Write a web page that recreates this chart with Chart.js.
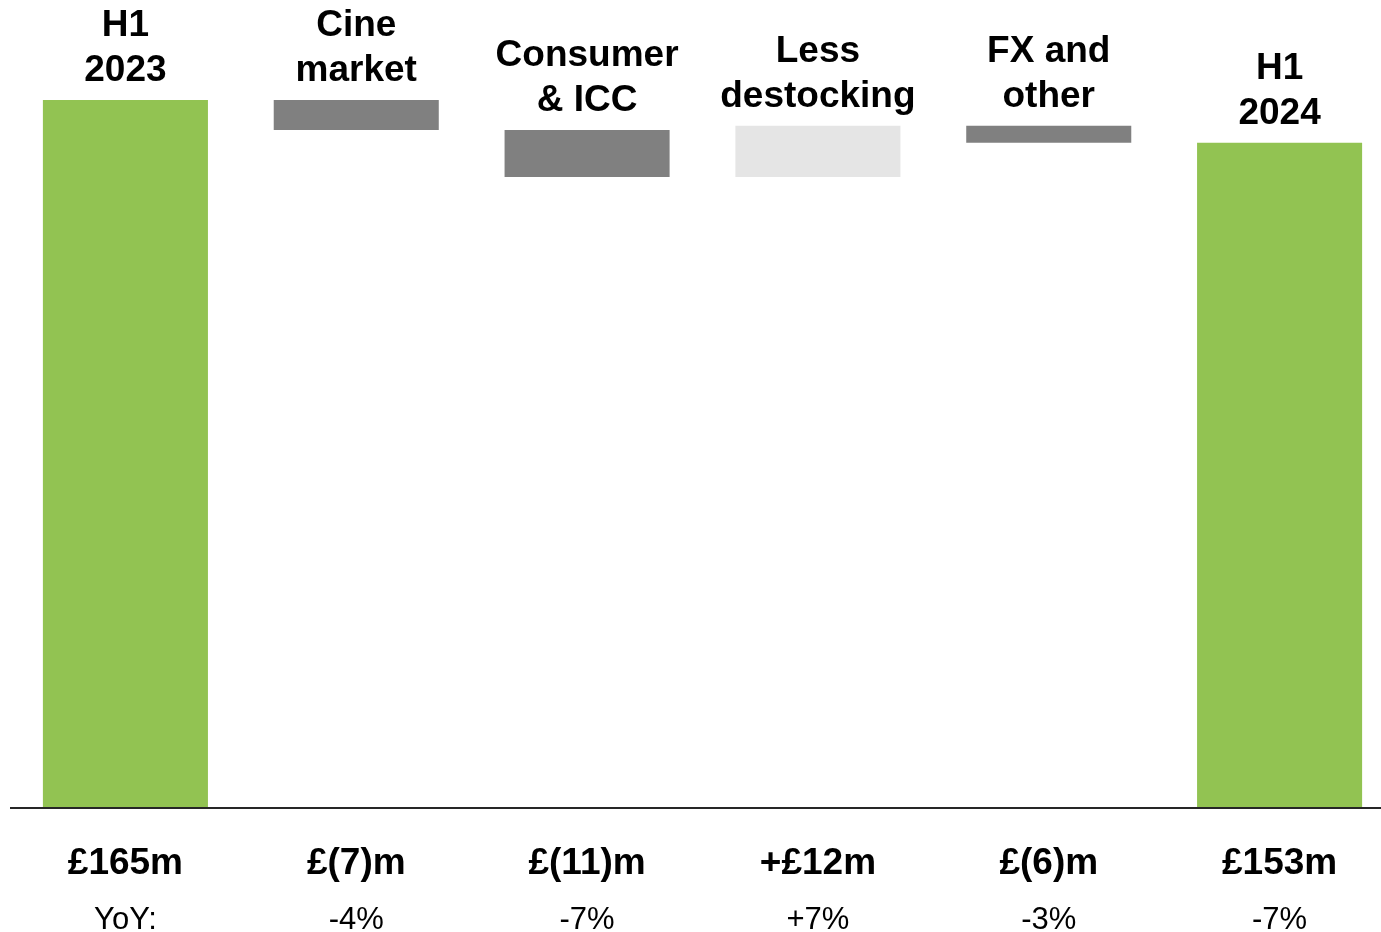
<!DOCTYPE html>
<html>
<head>
<meta charset="utf-8">
<script src="https://cdn.jsdelivr.net/npm/chart.js@4"></script>
<style>
  html, body { margin: 0; padding: 0; background: #ffffff; overflow: hidden; }
  #wrap { width: 1400px; height: 932px; }
</style>
</head>
<body>
<div id="wrap"><canvas id="c" width="1400" height="932"></canvas></div>
<script>
// Categories (multi-line headings above bars)
const categories = [["H1", "2023"], ["Cine", "market"], ["Consumer", "& ICC"], ["Less", "destocking"], ["FX and", "other"], ["H1", "2024"]];
// Bar extents (£m): floating start and end
const barStarts = [0, 165, 158, 147, 159, 0];
const barEnds   = [165, 158, 147, 159, 155, 155];
// Text labels under the axis
const valueLabels = ["£165m", "£(7)m", "£(11)m", "+£12m", "£(6)m", "£153m"];
const yoyLabels = ["YoY:", "-4%", "-7%", "+7%", "-3%", "-7%"];
// Bar kinds: total, decrease, increase
const barKinds = ["total", "down", "down", "up", "down", "total"];

const kindColors = { total: "#92C352", down: "#808080", up: "#E5E5E5" };

const FONT = "'Liberation Sans', Arial, sans-serif";

const labelPlugin = {
  id: "waterfallLabels",
  afterDraw(chart) {
    const ctx = chart.ctx;
    const x = chart.scales.x;
    const y = chart.scales.y;
    const y0 = y.getPixelForValue(0);
    ctx.save();
    // baseline axis line
    ctx.fillStyle = "#262626";
    ctx.fillRect(chart.chartArea.left, Math.round(y0), chart.width - chart.chartArea.left, 2);

    ctx.textAlign = "center";
    ctx.textBaseline = "alphabetic";
    ctx.fillStyle = "#000000";
    categories.forEach((lines, i) => {
      const cx = x.getPixelForValue(i);
      const top = y.getPixelForValue(Math.max(barStarts[i], barEnds[i]));
      ctx.font = "bold 37px " + FONT;
      const lastBase = top - 19;
      for (let k = 0; k < lines.length; k++) {
        const base = lastBase - (lines.length - 1 - k) * 45;
        ctx.fillText(lines[k], cx, base);
      }
      ctx.font = "bold 37px " + FONT;
      ctx.fillText(valueLabels[i], cx, y0 + 67);
      ctx.font = "31px " + FONT;
      ctx.fillText(yoyLabels[i], cx, y0 + 122);
    });
    ctx.restore();
  }
};

new Chart(document.getElementById("c"), {
  type: "bar",
  data: {
    labels: categories.map(l => l.join(" ")),
    datasets: [{
      data: barStarts.map((s, i) => [s, barEnds[i]]),
      backgroundColor: barKinds.map(k => kindColors[k]),
      borderWidth: 0,
      barPercentage: 1,
      categoryPercentage: 0.715
    }]
  },
  options: {
    responsive: false,
    animation: false,
    layout: { padding: { left: 10, right: 5, top: 35.7, bottom: 125 } },
    plugins: { legend: { display: false }, tooltip: { enabled: false } },
    scales: {
      x: { display: false },
      y: { display: false, min: 0, max: 180 }
    }
  },
  plugins: [labelPlugin]
});
</script>
</body>
</html>
